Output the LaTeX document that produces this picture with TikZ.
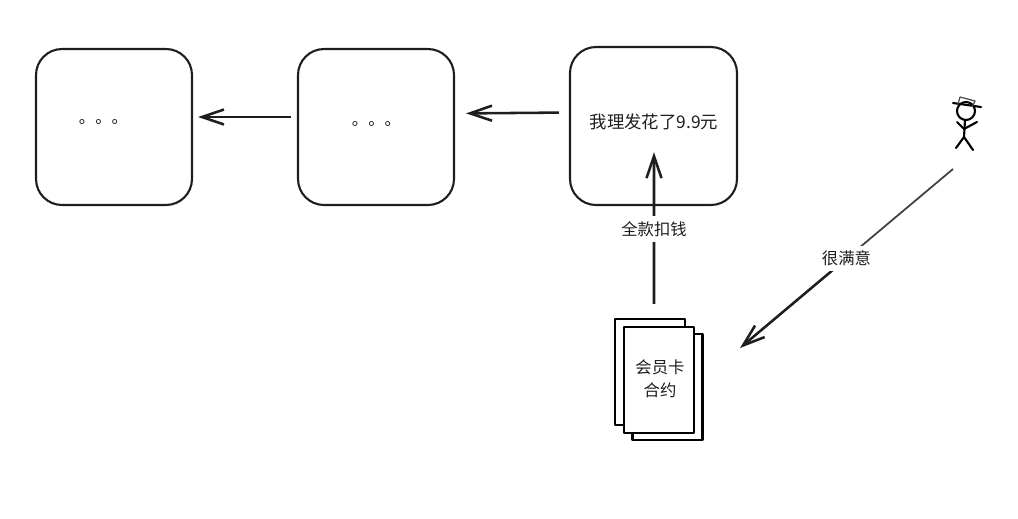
\documentclass[tikz,border=0pt]{standalone}
\usepackage{fontspec}
\usepackage{xcolor}
\usepackage{tikz}
\usetikzlibrary{arrows.meta,calc}
\setmainfont{Noto Sans CJK SC}
\definecolor{inkdark}{HTML}{1E1E1E}
\tikzset{
  boxa/.style={draw=inkdark,line width=1.2pt,rounded corners=0.52cm,inner sep=0pt},
  sheet/.style={draw=black,line width=1.2pt,fill=white,inner sep=0pt,minimum width=1.4cm,minimum height=2.12cm},
  txt/.style={text=inkdark,font=\fontsize{9.3}{13}\selectfont,inner sep=1pt,align=center},
  flow/.style={->,draw=inkdark,line width=1.45pt},
  stick/.style={draw=black,line width=1.2pt,line cap=round}
}

\begin{document}
\begin{tikzpicture}[x=0.02cm,y=-0.02cm,>={Straight Barb[length=0.44cm,width=0.3cm]},line join=round]
  \useasboundingbox (0,0) rectangle (1018,518);
  % three boxes
  \node[boxa,minimum width=3.12cm,minimum height=3.12cm] (boxL) at (114,127) {};
  \node[boxa,minimum width=3.12cm,minimum height=3.12cm] (boxM) at (376,127) {};
  \node[boxa,minimum width=3.34cm,minimum height=3.16cm] (boxR) at (653.5,126) {};
  \node[txt] (textL) at (103.5,122) {。。。};
  \node[txt] (textM) at (376.5,124) {。。。};
  \node[txt,font=\fontsize{9.9}{13}\selectfont] (textR) at (654,122) {我理发花了9.9元};
  % contract sheets
  \node[sheet] (sheetA) at (650,372) {};
  \node[sheet] (sheetB) at (667.5,387) {};
  \node[sheet] (sheetC) at (659,380) {};
  \node[txt] (textC) at (660,379) {会员卡\\合约};
  % stick man
  \coordinate (neck) at (965,120);
  \coordinate (hip) at (964,137);
  \coordinate (hand) at (964,129);
  \draw[stick] (966,111) circle (9);
  \draw[stick] (neck) -- (hip);
  \draw[stick] (957,122) -- (hand) -- (977,122);
  \draw[stick] (956,148) -- (hip) -- (973,150);
  \draw[stick] (953,103) -- (981,107);
  \draw[draw=black!70,line width=0.7pt] (958,104) -- (960,97) -- (975,101) -- (972,107);
  % arrows
  \coordinate (manfoot) at (953,169);
  \coordinate (sheettip) at (740,348);
  \coordinate (midline) at ($(manfoot)!0.5!(sheettip)$);
  \draw[flow,shorten <=0.12cm,shorten >=0.1cm] ([yshift=0.2cm]boxM.west) -- ([yshift=0.2cm]boxL.east);
  \draw[flow,shorten <=0.2cm,shorten >=0.22cm] ([yshift=0.27cm]boxR.west) -- ([yshift=0.27cm]boxM.east);
  \draw[flow,shorten <=0.44cm,shorten >=0.4cm] ([xshift=-0.1cm]sheetC.north) -- node[txt,fill=white,inner ysep=3pt] (labelpay) {全款扣钱} (textR.south);
  \draw[flow] (midline) -- (sheettip);
  \draw[draw=inkdark!85,line width=1pt] (manfoot) -- (midline) node[txt,fill=white,inner ysep=3pt] (labelhappy) {很满意};
\end{tikzpicture}
\end{document}
